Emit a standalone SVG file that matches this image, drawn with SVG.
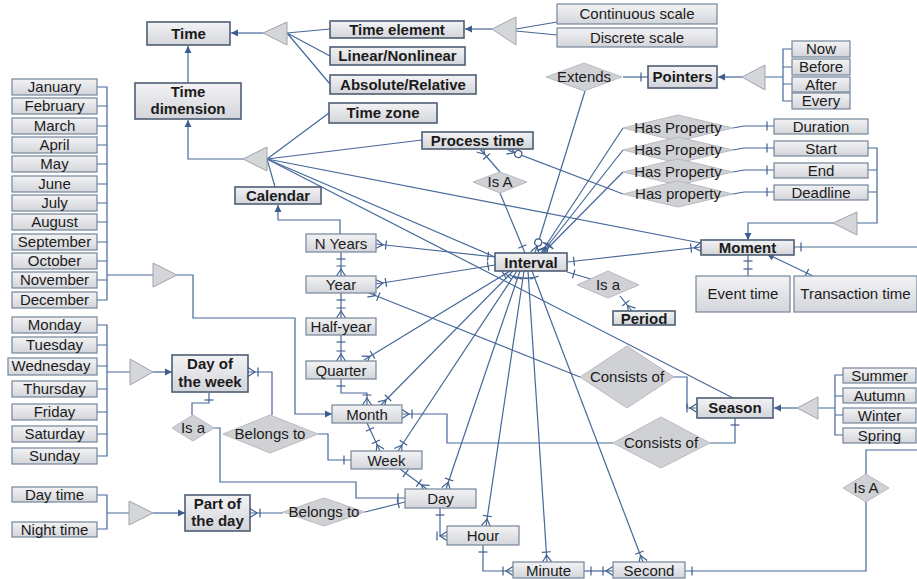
<svg xmlns="http://www.w3.org/2000/svg" width="917" height="579" viewBox="0 0 917 579">
<defs>
<linearGradient id="bg" x1="0" y1="0" x2="0" y2="1"><stop offset="0" stop-color="#f3f3f5"/><stop offset="1" stop-color="#d3d5da"/></linearGradient>
<marker id="arr" viewBox="-10 -6 12 12" refX="0" refY="0" markerWidth="12" markerHeight="12" markerUnits="userSpaceOnUse" orient="auto-start-reverse" overflow="visible"><path d="M0,0 L-7,-3.5 L-7,3.5 z" fill="#3d5d8c"/></marker>
<marker id="one" viewBox="-14 -7 16 14" refX="0" refY="0" markerWidth="16" markerHeight="14" markerUnits="userSpaceOnUse" orient="auto-start-reverse" overflow="visible"><path d="M-7,-4.5 V4.5" stroke="#3d5d8c" stroke-width="1.2" fill="none"/></marker>
<marker id="many" viewBox="-14 -7 16 14" refX="0" refY="0" markerWidth="16" markerHeight="14" markerUnits="userSpaceOnUse" orient="auto-start-reverse" overflow="visible"><path d="M0,-4.5 L-7,0 L0,4.5 M-10,-4.5 V4.5" stroke="#3d5d8c" stroke-width="1.2" fill="none"/></marker>
<marker id="zmany" viewBox="-16 -7 18 14" refX="0" refY="0" markerWidth="18" markerHeight="14" markerUnits="userSpaceOnUse" orient="auto-start-reverse" overflow="visible"><path d="M0,-4.5 L-7,0 L0,4.5" stroke="#3d5d8c" stroke-width="1.2" fill="none"/><circle cx="-11" cy="0" r="3.5" fill="#fff" stroke="#3d5d8c" stroke-width="1.2"/></marker>
</defs>
<style>
.n rect{fill:url(#bg);stroke:#75859a;stroke-width:1.2}
.k rect{stroke:#4e5e74;stroke-width:1.6}
text{font-family:"Liberation Sans",Arial,sans-serif;font-size:15px;fill:#1b1b1b;text-anchor:middle}
.k text{font-weight:bold}
.d polygon{fill:#d0d1d5;stroke:#b9bbc0;stroke-width:1}
.tri polygon{fill:#d5d6da;stroke:#9fa3ab;stroke-width:1}
#connectors path{fill:none;stroke:#46689a;stroke-width:1.2}
</style>
<rect width="917" height="579" fill="#fff"/>

<g id="connectors">
<path d="M263,33 H231" marker-end="url(#arr)"/>
<path d="M287,33 L330,29 M287,33 L330,56 M287,33 L330,84"/>
<path d="M188,83 V46" marker-end="url(#arr)"/>
<path d="M243,159 H188 V120" marker-end="url(#arr)"/>
<path d="M267,159 L329,113 M267,159 L422,140 M267,159 L275,187 M267,159 L701,243 M267,159 L733,398"/>
<path d="M267,159 L495,257"/>
<path d="M492,29 H465" marker-end="url(#arr)"/>
<path d="M516,29 L557,22 M516,31 L557,35"/>
<path d="M742,77 H718" marker-end="url(#arr)"/>
<path d="M765,77 H783 M792,49 H783 V101 H792 M783,67 H792 M783,84 H792"/>
<path d="M623,77 H648" marker-end="url(#one)"/>
<path d="M585,91 L535,253" marker-end="url(#zmany)"/>
<path d="M623,128 L541,253" marker-end="url(#many)"/>
<path d="M623,150 L542,253" marker-end="url(#many)"/>
<path d="M623,172 L543,253" marker-end="url(#many)"/>
<path d="M623,194 L508,150" marker-end="url(#zmany)"/>
<path d="M733,128 L744,126 H774" marker-end="url(#one)"/>
<path d="M733,150 L744,148 H774" marker-end="url(#one)"/>
<path d="M733,172 L744,170 H774" marker-end="url(#one)"/>
<path d="M733,194 L744,192 H774" marker-end="url(#one)"/>
<path d="M868,148 H877 V223 H857 M868,170 H877 M868,192 H877"/>
<path d="M833,223 H748 V240" marker-end="url(#arr)"/>
<path d="M794,247 H917" marker-start="url(#one)"/>
<path d="M567,262 L701,247" marker-start="url(#one)" marker-end="url(#many)"/>
<path d="M748,254 V276" marker-start="url(#one)" marker-end="url(#one)"/>
<path d="M767,254 L813,276" marker-start="url(#arr)" marker-end="url(#one)"/>
<path d="M567,272 L594,280" marker-start="url(#one)"/>
<path d="M620,296 L632,311" marker-end="url(#many)"/>
<path d="M500,172 L480,149" marker-end="url(#many)"/>
<path d="M500,193 L525,253" marker-end="url(#one)"/>
<path d="M376,244 L495,257" marker-start="url(#many)" marker-end="url(#one)"/>
<path d="M376,284 L495,265" marker-start="url(#many)" marker-end="url(#one)"/>
<path d="M341,252 V276" marker-start="url(#one)" marker-end="url(#many)"/>
<path d="M341,293 V318" marker-start="url(#one)" marker-end="url(#many)"/>
<path d="M341,335 V361" marker-start="url(#one)" marker-end="url(#many)"/>
<path d="M341,379 V393 H367 V405" marker-start="url(#one)" marker-end="url(#many)"/>
<path d="M340,234 V220 H278 V205" marker-end="url(#arr)"/>
<path d="M510,271 L364,360" marker-start="url(#one)" marker-end="url(#many)"/>
<path d="M513,271 L381,405" marker-start="url(#one)" marker-end="url(#many)"/>
<path d="M517,271 L398,451" marker-start="url(#one)" marker-end="url(#many)"/>
<path d="M520,271 L446,489" marker-start="url(#one)" marker-end="url(#many)"/>
<path d="M524,271 L486,526" marker-start="url(#one)" marker-end="url(#many)"/>
<path d="M528,271 L547,562" marker-start="url(#one)" marker-end="url(#many)"/>
<path d="M532,271 L643,562" marker-start="url(#one)" marker-end="url(#many)"/>
<path d="M369,293 L580,377" marker-start="url(#many)"/>
<path d="M673,377 H687 V408 H697" marker-end="url(#many)"/>
<path d="M710,443 H735 V418" marker-end="url(#one)"/>
<path d="M402,414 H447 V443 H613" marker-start="url(#many)"/>
<path d="M367,423 L380,451" marker-start="url(#one)" marker-end="url(#many)"/>
<path d="M400,469 L427,489" marker-start="url(#one)" marker-end="url(#many)"/>
<path d="M440,508 V536 H447" marker-start="url(#one)" marker-end="url(#many)"/>
<path d="M483,545 V571 H513" marker-start="url(#one)" marker-end="url(#many)"/>
<path d="M584,571 H613" marker-start="url(#one)" marker-end="url(#many)"/>
<path d="M685,571 H866 V502" marker-start="url(#one)"/>
<path d="M866,474 V450 H917"/>
<path d="M97,87 H107 V300 H97 M97,106 H107 M97,126 H107 M97,145 H107 M97,164 H107 M97,184 H107 M97,203 H107 M97,222 H107 M97,242 H107 M97,261 H107 M97,280 H107 M107,275 H153"/>
<path d="M177,275 H193 V318 H295 V414 H332" marker-end="url(#arr)"/>
<path d="M97,325 H107 V456 H97 M97,345 H107 M97,366 H107 M97,389 H107 M97,412 H107 M97,434 H107 M107,372 H130"/>
<path d="M153,372 H172" marker-end="url(#arr)"/>
<path d="M97,495 H107 V529 H97 M107,513 H129"/>
<path d="M153,513 H185" marker-end="url(#arr)"/>
<path d="M843,375 H835 V435 H843 M835,396 H843 M835,415 H843 M835,408 H818"/>
<path d="M797,408 H774" marker-end="url(#arr)"/>
<path d="M209,393 V403 H192 V415" marker-start="url(#one)"/>
<path d="M213,428 H220 V482 H356 V498 H405" marker-end="url(#one)"/>
<path d="M248,372 H272 V415" marker-start="url(#many)"/>
<path d="M318,434 H328 V460 H351" marker-end="url(#one)"/>
<path d="M250,513 H283" marker-start="url(#many)"/>
<path d="M365,512 L405,502" marker-end="url(#one)"/>
</g>

<g class="tri">
<polygon id="gen-time" points="263,33 287,22 287,45"/>
<polygon id="gen-dimension" points="243,159 267,147 267,171"/>
<polygon id="gen-scale" points="492,29 516,17 516,45"/>
<polygon id="gen-pointers" points="742,77 765,65 765,90"/>
<polygon id="gen-moment" points="833,223 857,212 857,235"/>
<polygon id="gen-months" points="153,263 153,287 177,275"/>
<polygon id="gen-weekdays" points="130,359 130,385 153,372"/>
<polygon id="gen-dayparts" points="129,501 129,525 153,513"/>
<polygon id="gen-season" points="797,408 818,397 818,419"/>
</g>

<g class="d">
<g id="d-extends"><polygon points="546,77 584,63 622,77 584,91"/><text x="584" y="82">Extends</text></g>
<g id="d-hasprop1"><polygon points="623,128 678,115 733,128 678,141"/><text x="678" y="133">Has Property</text></g>
<g id="d-hasprop2"><polygon points="623,150 678,137 733,150 678,163"/><text x="678" y="155">Has Property</text></g>
<g id="d-hasprop3"><polygon points="623,172 678,159 733,172 678,185"/><text x="678" y="177">Has Property</text></g>
<g id="d-hasprop4"><polygon points="623,194 678,181 733,194 678,207"/><text x="678" y="199">Has property</text></g>
<g id="d-isa-process"><polygon points="473,182 500,172 527,182 500,193"/><text x="500" y="187">Is A</text></g>
<g id="d-isa-period"><polygon points="577,285 608,271 639,285 608,298"/><text x="608" y="290">Is a</text></g>
<g id="d-consists1"><polygon points="580,377 627,346 674,377 627,408"/><text x="627" y="382">Consists of</text></g>
<g id="d-consists2"><polygon points="613,443 661,417 710,443 661,468"/><text x="661" y="448">Consists of</text></g>
<g id="d-isa-dow"><polygon points="172,428 193,415 214,428 193,441"/><text x="193" y="433">Is a</text></g>
<g id="d-belongs-week"><polygon points="223,434 270,415 318,434 270,453"/><text x="270" y="439">Belongs to</text></g>
<g id="d-belongs-day"><polygon points="283,512 324,498 365,512 324,526"/><text x="324" y="517">Belongs to</text></g>
<g id="d-isa-second"><polygon points="843,488 866,474 889,488 866,502"/><text x="866" y="493">Is A</text></g>
</g>

<g id="time" class="n k"><rect x="147" y="22" width="83" height="23"/><text x="188.5" y="39">Time</text></g>
<g id="time-element" class="n k"><rect x="330" y="21" width="134" height="17"/><text x="397" y="35">Time element</text></g>
<g id="linear" class="n k"><rect x="330" y="47" width="135" height="18"/><text x="397.5" y="61">Linear/Nonlinear</text></g>
<g id="absolute" class="n k"><rect x="330" y="75" width="146" height="19"/><text x="403" y="90">Absolute/Relative</text></g>
<g id="continuous" class="n"><rect x="557" y="4" width="160" height="20"/><text x="637" y="19">Continuous scale</text></g>
<g id="discrete" class="n"><rect x="557" y="28" width="160" height="19"/><text x="637" y="43">Discrete scale</text></g>
<g id="time-dimension" class="n k"><rect x="135" y="83" width="106" height="36"/><text x="188" y="97">Time</text><text x="188" y="114">dimension</text></g>
<g id="time-zone" class="n k"><rect x="329" y="103" width="108" height="20"/><text x="383" y="118">Time zone</text></g>
<g id="process-time" class="n k"><rect x="422" y="132" width="111" height="17"/><text x="477.5" y="146">Process time</text></g>
<g id="calendar" class="n k"><rect x="235" y="187" width="86" height="17"/><text x="278" y="201">Calendar</text></g>
<g id="pointers" class="n k"><rect x="648" y="66" width="69" height="22"/><text x="682.5" y="82">Pointers</text></g>
<g id="now" class="n"><rect x="792" y="41" width="58" height="16"/><text x="821" y="54">Now</text></g>
<g id="before" class="n"><rect x="792" y="59" width="58" height="16"/><text x="821" y="72">Before</text></g>
<g id="after" class="n"><rect x="792" y="77" width="58" height="15"/><text x="821" y="90">After</text></g>
<g id="every" class="n"><rect x="792" y="93" width="58" height="16"/><text x="821" y="106">Every</text></g>
<g id="duration" class="n"><rect x="774" y="119" width="94" height="15"/><text x="821" y="132">Duration</text></g>
<g id="start" class="n"><rect x="774" y="141" width="94" height="15"/><text x="821" y="154">Start</text></g>
<g id="end" class="n"><rect x="774" y="163" width="94" height="15"/><text x="821" y="176">End</text></g>
<g id="deadline" class="n"><rect x="774" y="185" width="94" height="15"/><text x="821" y="198">Deadline</text></g>
<g id="moment" class="n k"><rect x="701" y="240" width="93" height="15"/><text x="747.5" y="253">Moment</text></g>
<g id="event-time" class="n"><rect x="696" y="276" width="94" height="36"/><text x="743" y="299">Event time</text></g>
<g id="transaction-time" class="n"><rect x="794" y="276" width="123" height="36"/><text x="855.5" y="299">Transaction time</text></g>
<g id="interval" class="n k"><rect x="495" y="253" width="72" height="18"/><text x="531" y="268">Interval</text></g>
<g id="period" class="n k"><rect x="613" y="311" width="62" height="14"/><text x="644" y="324">Period</text></g>
<g id="n-years" class="n"><rect x="306" y="234" width="70" height="18"/><text x="341" y="249">N Years</text></g>
<g id="year" class="n"><rect x="306" y="276" width="70" height="17"/><text x="341" y="290">Year</text></g>
<g id="half-year" class="n"><rect x="306" y="318" width="70" height="17"/><text x="341" y="332">Half-year</text></g>
<g id="quarter" class="n"><rect x="306" y="361" width="70" height="18"/><text x="341" y="376">Quarter</text></g>
<g id="month" class="n"><rect x="332" y="405" width="70" height="18"/><text x="367" y="420">Month</text></g>
<g id="week" class="n"><rect x="351" y="451" width="71" height="18"/><text x="386.5" y="466">Week</text></g>
<g id="day" class="n"><rect x="405" y="489" width="71" height="19"/><text x="440.5" y="504">Day</text></g>
<g id="hour" class="n"><rect x="447" y="526" width="72" height="19"/><text x="483" y="541">Hour</text></g>
<g id="minute" class="n"><rect x="513" y="562" width="71" height="16"/><text x="548.5" y="576">Minute</text></g>
<g id="second" class="n"><rect x="613" y="562" width="72" height="16"/><text x="649" y="576">Second</text></g>
<g id="season" class="n k"><rect x="697" y="398" width="76" height="20"/><text x="735" y="413">Season</text></g>
<g id="summer" class="n"><rect x="843" y="368" width="73" height="15"/><text x="879.5" y="381">Summer</text></g>
<g id="autumn" class="n"><rect x="843" y="388" width="73" height="15"/><text x="879.5" y="401">Autumn</text></g>
<g id="winter" class="n"><rect x="843" y="408" width="73" height="15"/><text x="879.5" y="421">Winter</text></g>
<g id="spring" class="n"><rect x="843" y="428" width="73" height="15"/><text x="879.5" y="441">Spring</text></g>
<g id="day-of-week" class="n k"><rect x="172" y="355" width="76" height="37"/><text x="210" y="369">Day of</text><text x="210" y="387">the week</text></g>
<g id="part-of-day" class="n k"><rect x="185" y="495" width="65" height="36"/><text x="217.5" y="509">Part of</text><text x="217.5" y="526">the day</text></g>
<g id="day-time" class="n"><rect x="12" y="487" width="85" height="15"/><text x="54.5" y="500">Day time</text></g>
<g id="night-time" class="n"><rect x="12" y="522" width="85" height="15"/><text x="54.5" y="535">Night time</text></g>
<g id="january" class="n"><rect x="12" y="79" width="85" height="16"/><text x="54.5" y="92">January</text></g>
<g id="february" class="n"><rect x="12" y="98" width="85" height="16"/><text x="54.5" y="111">February</text></g>
<g id="march" class="n"><rect x="12" y="118" width="85" height="16"/><text x="54.5" y="131">March</text></g>
<g id="april" class="n"><rect x="12" y="137" width="85" height="16"/><text x="54.5" y="150">April</text></g>
<g id="may" class="n"><rect x="12" y="156" width="85" height="16"/><text x="54.5" y="169">May</text></g>
<g id="june" class="n"><rect x="12" y="176" width="85" height="16"/><text x="54.5" y="189">June</text></g>
<g id="july" class="n"><rect x="12" y="195" width="85" height="16"/><text x="54.5" y="208">July</text></g>
<g id="august" class="n"><rect x="12" y="214" width="85" height="16"/><text x="54.5" y="227">August</text></g>
<g id="september" class="n"><rect x="12" y="234" width="85" height="16"/><text x="54.5" y="247">September</text></g>
<g id="october" class="n"><rect x="12" y="253" width="85" height="16"/><text x="54.5" y="266">October</text></g>
<g id="november" class="n"><rect x="12" y="272" width="85" height="16"/><text x="54.5" y="285">November</text></g>
<g id="december" class="n"><rect x="12" y="292" width="85" height="16"/><text x="54.5" y="305">December</text></g>
<g id="monday" class="n"><rect x="12" y="317" width="85" height="16"/><text x="54.5" y="330">Monday</text></g>
<g id="tuesday" class="n"><rect x="12" y="337" width="85" height="16"/><text x="54.5" y="350">Tuesday</text></g>
<g id="wednesday" class="n"><rect x="8" y="358" width="89" height="17"/><text x="51" y="371">Wednesday</text></g>
<g id="thursday" class="n"><rect x="12" y="381" width="85" height="16"/><text x="54.5" y="394">Thursday</text></g>
<g id="friday" class="n"><rect x="12" y="404" width="85" height="16"/><text x="54.5" y="417">Friday</text></g>
<g id="saturday" class="n"><rect x="12" y="426" width="85" height="16"/><text x="54.5" y="439">Saturday</text></g>
<g id="sunday" class="n"><rect x="12" y="448" width="85" height="16"/><text x="54.5" y="461">Sunday</text></g>
</svg>
